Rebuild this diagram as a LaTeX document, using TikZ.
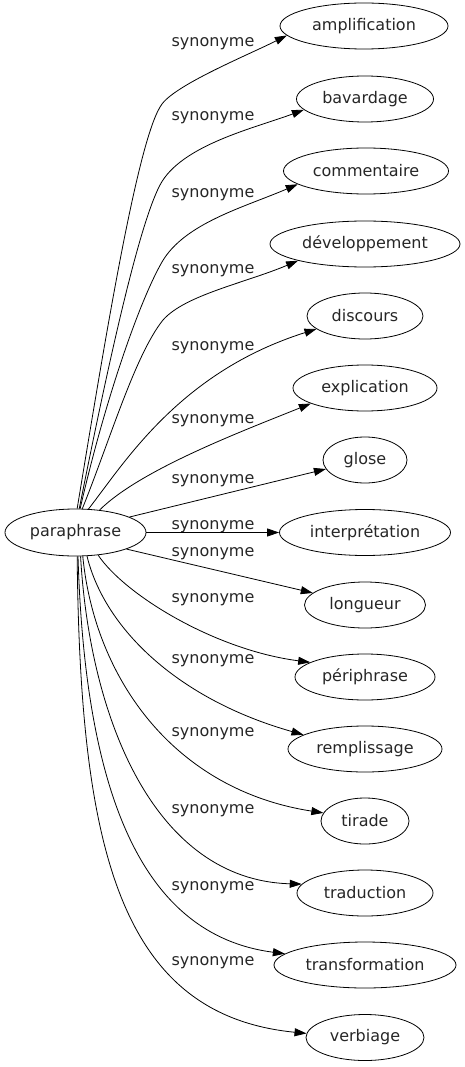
\documentclass[tikz,border=0pt]{standalone}
\usepackage{fontspec}
\usetikzlibrary{shapes.geometric,arrows.meta}
\newfontfamily\dvs{DejaVu Sans}
\newcommand\wf{\fontsize{16pt}{19pt}\selectfont\dvs}
\tikzset{
  word/.style={draw, ellipse, line width=0.8pt, inner sep=0pt, minimum height=46pt, font=\wf, text=black!85},
  rel/.style={font=\wf, text=black!85, anchor=base, inner sep=0pt},
  syn/.style={line width=0.8pt, -{Triangle[length=12pt,width=8pt]}},
}
\begin{document}
\begin{tikzpicture}[x=1pt,y=-1pt]
\useasboundingbox (0,0) rectangle (465,1067);
% nodes
\node[word, minimum width=141pt, minimum height=47pt] (para) at (75.5,532.5) {paraphrase};
\node[word, minimum width=168pt] (amp) at (364,26) {amplification};
\node[word, minimum width=137pt] (bav) at (365,99) {bavardage};
\node[word, minimum width=165pt] (com) at (366,171) {commentaire};
\node[word, minimum width=190pt] (dev) at (365,244) {développement};
\node[word, minimum width=116pt] (disc) at (365,316) {discours};
\node[word, minimum width=144pt] (expl) at (365,388) {explication};
\node[word, minimum width=84pt] (glose) at (365,460) {glose};
\node[word, minimum width=171pt] (interp) at (365,532.5) {interprétation};
\node[word, minimum width=121pt] (long) at (365,605) {longueur};
\node[word, minimum width=140pt] (peri) at (365,677) {périphrase};
\node[word, minimum width=154pt] (rempl) at (365,749) {remplissage};
\node[word, minimum width=88pt] (tirade) at (365,821) {tirade};
\node[word, minimum width=136pt] (trad) at (365,893) {traduction};
\node[word, minimum width=182pt] (transf) at (365,965) {transformation};
\node[word, minimum width=118pt] (verb) at (365,1037.5) {verbiage};
% labels
\node[rel] (l0) at (213,47) {synonyme};
\node[rel] (l1) at (213,121) {synonyme};
\node[rel] (l2) at (213,198) {synonyme};
\node[rel] (l3) at (213,273) {synonyme};
\node[rel] (l4) at (213,350) {synonyme};
\node[rel] (l5) at (213,423) {synonyme};
\node[rel] (l6) at (213,483) {synonyme};
\node[rel] (l7) at (213,529) {synonyme};
\node[rel] (l8) at (213,556) {synonyme};
\node[rel] (l9) at (213,602) {synonyme};
\node[rel] (l10) at (213,663) {synonyme};
\node[rel] (l11) at (213,736) {synonyme};
\node[rel] (l12) at (213,813) {synonyme};
\node[rel] (l13) at (213,890) {synonyme};
\node[rel] (l14) at (213,965) {synonyme};
% edges
\draw[syn] (para.86) .. controls (105,340) and (138,136) .. (162,104) .. controls (177,84) and (248,55) .. (amp.187);
\draw[syn] (para.81) .. controls (109,359) and (139,225) .. (160,185) .. controls (181,145) and (255,128) .. (bav.190);
\draw[syn] (para.79) .. controls (105,400) and (139.5,301) .. (162,262) .. controls (184.5,223) and (245,207) .. (com.191);
\draw[syn] (para.74) .. controls (110,440) and (135,355) .. (163,320) .. controls (185,295) and (245,283) .. (dev.194);
\draw[syn] (para.61) .. controls (125,462) and (180,372) .. (disc.195);
\draw[syn] (para.43) .. controls (140,470) and (240,432) .. (expl.196);
\draw[syn] (para.16) -- (glose.193);
\draw[syn] (para) -- (interp);
\draw[syn] (para.-18) -- (long.167);
\draw[syn] (para.-45) .. controls (125,595) and (215,650) .. (peri.165);
\draw[syn] (para.-64) .. controls (105,630) and (180,700) .. (rempl.167);
\draw[syn] (para.-73) .. controls (95,680) and (175,790) .. (tirade.169);
\draw[syn] (para.-78) .. controls (90,720) and (155,880) .. (trad.172);
\draw[syn] (para.-84) .. controls (85,790) and (140,935) .. (transf.172);
\draw[syn] (para.-86) .. controls (80,850) and (120,1015) .. (verb.176);
\end{tikzpicture}
\end{document}
